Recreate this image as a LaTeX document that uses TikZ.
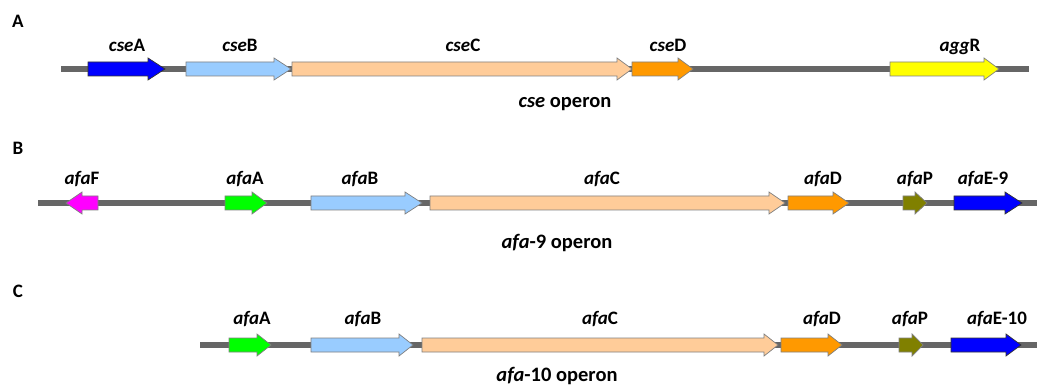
\documentclass[tikz,border=0pt]{standalone}
\usepackage{fontspec}
\setmainfont{Carlito}
\definecolor{bbgray}{HTML}{666666}
\definecolor{genblue}{HTML}{0000FF}
\definecolor{genlblue}{HTML}{99CCFF}
\definecolor{genpeach}{HTML}{FFCC99}
\definecolor{genorange}{HTML}{FF9900}
\definecolor{genyellow}{HTML}{FFFF00}
\definecolor{genmagenta}{HTML}{FF00FF}
\definecolor{gengreen}{HTML}{00FF00}
\definecolor{genolive}{HTML}{808000}
\tikzset{
  backbone/.style={draw=bbgray, line width=5.5pt},
  genebox/.style={draw=black!50, line width=0.7pt, line join=miter},
  darkedge/.style={draw=black!80},
  genelabel/.style={font=\bfseries\fontsize{19}{21}\selectfont, anchor=base, inner sep=0pt},
  operontitle/.style={font=\bfseries\fontsize{20.5}{22}\selectfont, anchor=base, inner sep=0pt},
  panel/.style={font=\bfseries\fontsize{19}{21}\selectfont, anchor=base, inner sep=0pt},
}
% forward gene: {style}{y}{start}{head start}{tip}
\newcommand\genefwd[5]{%
  \draw[genebox,#1] ({#3},{#2-7}) -- ({#4},{#2-7}) -- ({#4},{#2-11}) -- ({#5},{#2})
    -- ({#4},{#2+11}) -- ({#4},{#2+7}) -- ({#3},{#2+7}) -- cycle;}
% reverse gene: {style}{y}{tip}{head end}{back}
\newcommand\generev[5]{%
  \draw[genebox,#1] ({#5},{#2-7}) -- ({#4},{#2-7}) -- ({#4},{#2-11}) -- ({#3},{#2})
    -- ({#4},{#2+11}) -- ({#4},{#2+7}) -- ({#5},{#2+7}) -- cycle;}
\begin{document}
\begin{tikzpicture}[x=1pt, y=-1pt]
  \fill[white] (0,0) rectangle (1041,390);
  \useasboundingbox (0,0) rectangle (1041,390);

  % ---------- panel A: cse operon ----------
  \node[panel] (pA) at (18,28) {A};
  \coordinate (a0) at (61,69);
  \coordinate (a1) at (1029,69);
  \draw[backbone] (a0) -- (a1);
  \genefwd{fill=genblue,darkedge}{69}{88}{148}{165}
  \genefwd{fill=genlblue}{69}{186}{274}{291}
  \genefwd{fill=genpeach}{69}{292}{617}{632}
  \genefwd{fill=genorange}{69}{632}{678}{693}
  \genefwd{fill=genyellow}{69}{890}{984}{999}
  \node[genelabel] (lcseA) at (127,52) {\textit{cse}A};
  \node[genelabel] (lcseB) at (240,52) {\textit{cse}B};
  \node[genelabel] (lcseC) at (463,52) {\textit{cse}C};
  \node[genelabel] (lcseD) at (668,52) {\textit{cse}D};
  \node[genelabel] (laggR) at (960,52) {\textit{agg}R};
  \node[operontitle] (tA) at (565,108) {\textit{cse} operon};

  % ---------- panel B: afa-9 operon ----------
  \node[panel] (pB) at (18,155) {B};
  \coordinate (b0) at (38,203);
  \coordinate (b1) at (1037,203);
  \draw[backbone] (b0) -- (b1);
  \generev{fill=genmagenta}{203}{66}{82}{98}
  \genefwd{fill=gengreen}{203}{225}{252}{267}
  \genefwd{fill=genlblue}{203}{311}{405}{422}
  \genefwd{fill=genpeach}{203}{430}{769}{785}
  \genefwd{fill=genorange}{203}{788}{833}{849}
  \genefwd{fill=genolive}{203}{903}{915}{927}
  \genefwd{fill=genblue,darkedge}{203}{954}{1005}{1022}
  \node[genelabel] (lafaF9) at (82,185) {\textit{afa}F};
  \node[genelabel] (lafaA9) at (245,185) {\textit{afa}A};
  \node[genelabel] (lafaB9) at (360,185) {\textit{afa}B};
  \node[genelabel] (lafaC9) at (602,185) {\textit{afa}C};
  \node[genelabel] (lafaD9) at (823,185) {\textit{afa}D};
  \node[genelabel] (lafaP9) at (915,185) {\textit{afa}P};
  \node[genelabel] (lafaE9) at (983,185) {\textit{afa}E-9};
  \node[operontitle] (tB) at (557,248) {\textit{afa}-9 operon};

  % ---------- panel C: afa-10 operon ----------
  \node[panel] (pC) at (18,297) {C};
  \coordinate (c0) at (200,345);
  \coordinate (c1) at (1037,345);
  \draw[backbone] (c0) -- (c1);
  \genefwd{fill=gengreen}{345}{229}{257}{271}
  \genefwd{fill=genlblue}{345}{311}{399}{413}
  \genefwd{fill=genpeach}{345}{422}{764}{778}
  \genefwd{fill=genorange}{345}{781}{828}{842}
  \genefwd{fill=genolive}{345}{899}{912}{923}
  \genefwd{fill=genblue,darkedge}{345}{951}{1006}{1021}
  \node[genelabel] (lafaA10) at (252,324) {\textit{afa}A};
  \node[genelabel] (lafaB10) at (363,324) {\textit{afa}B};
  \node[genelabel] (lafaC10) at (600,324) {\textit{afa}C};
  \node[genelabel] (lafaD10) at (822,324) {\textit{afa}D};
  \node[genelabel] (lafaP10) at (910,324) {\textit{afa}P};
  \node[genelabel] (lafaE10) at (997,324) {\textit{afa}E-10};
  \node[operontitle] (tC) at (557,381) {\textit{afa}-10 operon};
\end{tikzpicture}
\end{document}
